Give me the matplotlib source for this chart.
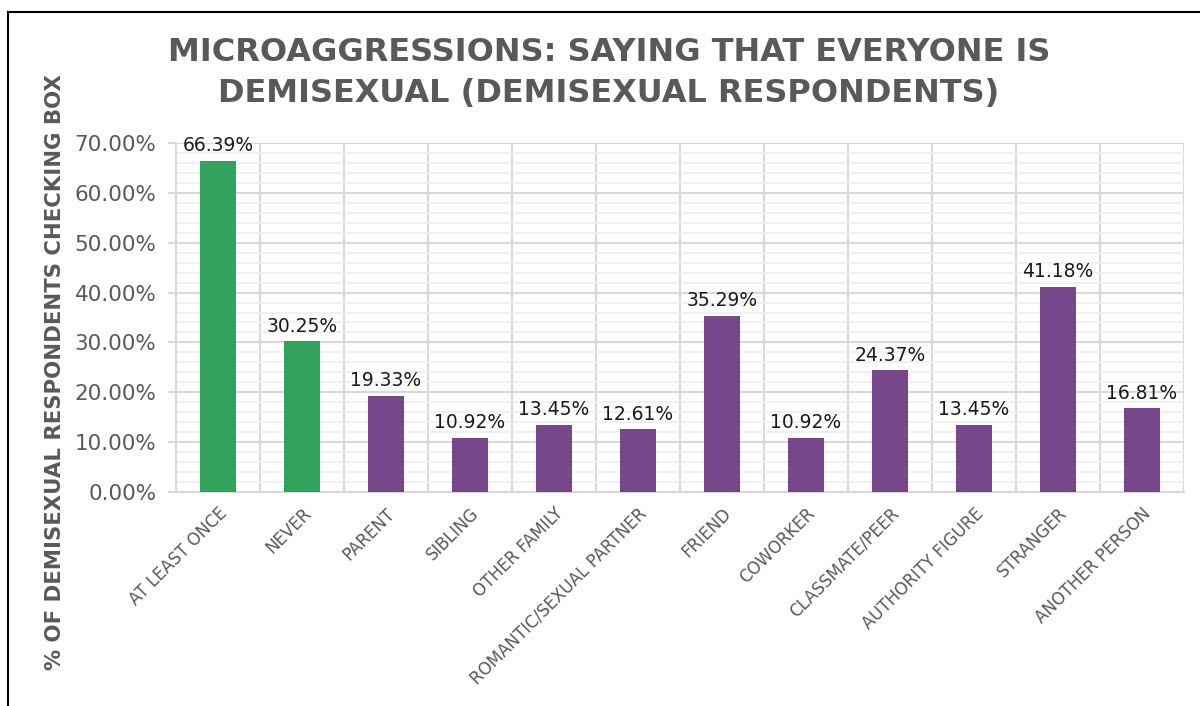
import numpy as np
import matplotlib.pyplot as plt
from matplotlib.patches import Rectangle
from matplotlib.ticker import MultipleLocator, FuncFormatter

categories = ["AT LEAST ONCE", "NEVER", "PARENT", "SIBLING", "OTHER FAMILY",
              "ROMANTIC/SEXUAL PARTNER", "FRIEND", "COWORKER", "CLASSMATE/PEER",
              "AUTHORITY FIGURE", "STRANGER", "ANOTHER PERSON"]
values = [66.39, 30.25, 19.33, 10.92, 13.45, 12.61, 35.29, 10.92, 24.37, 13.45, 41.18, 16.81]
green_count = 2

GREEN = "#31A35E"
PURPLE = "#76478A"
GREY = "#595959"

plt.rcParams['font.family'] = ['DejaVu Sans']

fig = plt.figure(figsize=(12, 7.06), dpi=100)
ax = fig.add_axes([176/1200, 1-492/706, 1008/1200, 349/706])

x = np.arange(len(categories))
colors = [GREEN if i < green_count else PURPLE for i in range(len(categories))]
vals = np.array(values) / 100
bars = ax.bar(x, vals, width=0.44, color=colors, zorder=3)

for xi, v in zip(x, values):
    ax.annotate(f"{v:.2f}%", (xi, v/100), xytext=(0, 4), textcoords="offset points",
                ha="center", va="bottom", fontsize=13.5, color="#1a1a1a")

ax.set_xlim(-0.5, len(categories) - 0.5)
ax.set_ylim(0, 0.70)
ax.yaxis.set_major_locator(MultipleLocator(0.10))
ax.yaxis.set_minor_locator(MultipleLocator(0.02))
ax.yaxis.set_major_formatter(FuncFormatter(lambda v, p: f"{v*100:.2f}%"))
ax.tick_params(axis="y", which="major", labelsize=15.5, labelcolor=GREY,
               color="#D9D9D9", length=6, width=1.5, pad=8)
ax.tick_params(axis="y", which="minor", length=0)

ax.set_xticks(x)
ax.set_xticklabels(categories, rotation=45, ha="right", rotation_mode="anchor",
                   fontsize=12, color=GREY)
ax.set_xticks(np.arange(-0.5, len(categories)), minor=True)
ax.tick_params(axis="x", which="both", length=0, pad=9)

ax.grid(which="major", axis="y", color="#D9D9D9", lw=1.5, zorder=0)
ax.grid(which="minor", axis="y", color="#EFEFEF", lw=1.2, zorder=0)
ax.grid(which="minor", axis="x", color="#D9D9D9", lw=1.5, zorder=0)
for s in ["top", "right"]:
    ax.spines[s].set_visible(False)
for s in ["left", "bottom"]:
    ax.spines[s].set_color("#D9D9D9")
    ax.spines[s].set_linewidth(1.5)

fig.text(609/1200, 1-73/706, "MICROAGGRESSIONS: SAYING THAT EVERYONE IS\nDEMISEXUAL (DEMISEXUAL RESPONDENTS)",
         ha="center", va="center", fontsize=23, fontweight="bold", color=GREY, linespacing=1.38)
fig.text(55/1200, 1-372/706, "% OF DEMISEXUAL RESPONDENTS CHECKING BOX",
         ha="center", va="center", rotation=90, fontsize=15.3, fontweight="bold", color=GREY)

# outer chart frame
fig.patches.append(Rectangle((8/1200, -0.1), 1.2, 1.1 - 12/706, transform=fig.transFigure,
                             fill=False, edgecolor="black", lw=1.5, zorder=10))

fig.savefig("out.png", dpi=100)
